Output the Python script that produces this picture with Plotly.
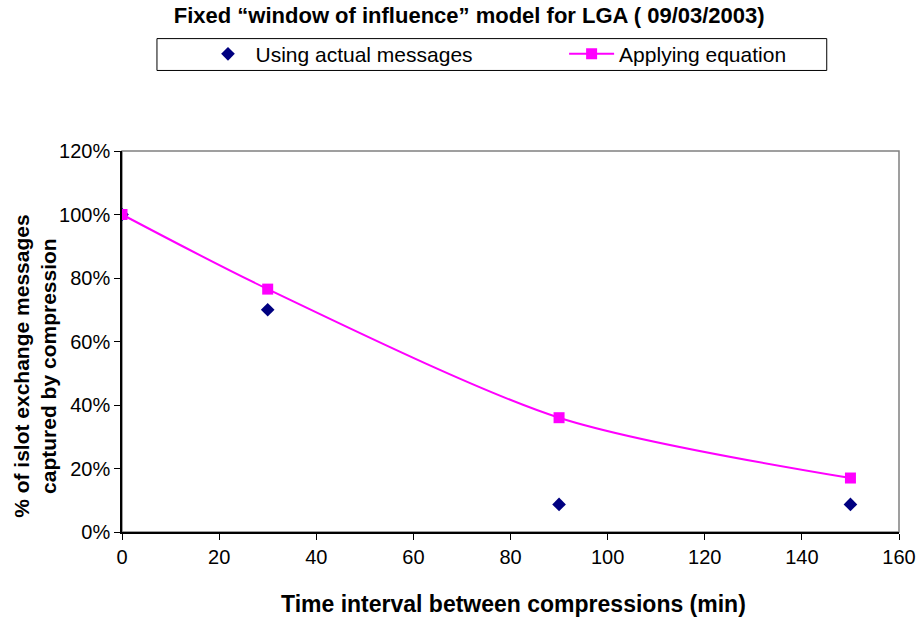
import plotly.graph_objects as go

# Time interval between compressions (min)
intervals = [0, 30, 90, 150]
# Share of islot exchange messages captured by compression
actual_share = [1.00, 0.70, 0.087, 0.087]
equation_share = [1.00, 0.765, 0.36, 0.17]

y_ticks = [0, 0.2, 0.4, 0.6, 0.8, 1.0, 1.2]
x_ticks = [0, 20, 40, 60, 80, 100, 120, 140, 160]

FONT = "Liberation Sans, Arial, sans-serif"

fig = go.Figure()
fig.add_trace(go.Scatter(
    x=intervals, y=actual_share, mode="markers", name="Using actual messages",
    marker=dict(symbol="diamond", size=10.5, color="#000080"),
    legend="legend", showlegend=True,
))
fig.add_trace(go.Scatter(
    x=intervals, y=equation_share, mode="lines+markers", name="Applying equation",
    line=dict(color="#FF00FF", width=2, shape="spline", smoothing=0.8),
    marker=dict(symbol="square", size=11, color="#FF00FF"),
    legend="legend2", showlegend=True,
))

# gray plot-area frame (top and right edges show)
fig.add_shape(type="rect", xref="paper", yref="paper", x0=0, y0=0, x1=1, y1=1,
              line=dict(color="#808080", width=1.5), layer="below")

# legend frame
fig.add_shape(type="rect", xref="paper", yref="paper",
              x0=0.045, x1=0.907, y0=1.2114, y1=1.295,
              line=dict(color="black", width=1), layer="below")

fig.add_annotation(
    text="% of islot exchange messages<br>captured by compression",
    xref="paper", yref="paper", x=-0.113, y=0.434, textangle=-90,
    showarrow=False, font=dict(family=FONT, size=21, color="black", weight="bold"),
    xanchor="center", yanchor="middle",
)
fig.add_annotation(
    text="Time interval between compressions (min)",
    xref="paper", yref="paper", x=0.504, y=-0.19,
    showarrow=False, font=dict(family=FONT, size=23, color="black", weight="bold"),
    xanchor="center", yanchor="middle",
)


def legend_box(x):
    return dict(
        x=x, y=1.308, xanchor="left", yanchor="top", orientation="h",
        borderwidth=0, bgcolor="rgba(0,0,0,0)", itemwidth=45, visible=True,
        font=dict(family=FONT, size=21, color="black"),
    )


fig.update_layout(
    width=920, height=622,
    margin=dict(l=122, r=21, t=151, b=90),
    paper_bgcolor="white", plot_bgcolor="white",
    font=dict(family=FONT, size=18, color="black"),
    showlegend=True,
    title=dict(
        text="Fixed \u201cwindow of influence\u201d model for LGA ( 09/03/2003)",
        x=0.510, y=0.975, xanchor="center", yanchor="middle",
        font=dict(family=FONT, size=22, color="black", weight="bold"),
    ),
    legend=legend_box(0.101),
    legend2=legend_box(0.569),
    xaxis=dict(
        range=[0, 160], tickvals=x_ticks, showgrid=False, zeroline=False,
        showline=True, linecolor="black", linewidth=1.5, automargin=False,
        ticks="outside", ticklen=6, tickcolor="black",
        tickfont=dict(size=20),
    ),
    yaxis=dict(
        range=[0, 1.2], tickvals=y_ticks, tickformat=".0%", showgrid=False,
        zeroline=False, showline=True, linecolor="black", linewidth=1.5,
        automargin=False, ticks="outside", ticklen=6, tickcolor="black",
        tickfont=dict(size=20),
    ),
)

fig.write_html("out.html")
